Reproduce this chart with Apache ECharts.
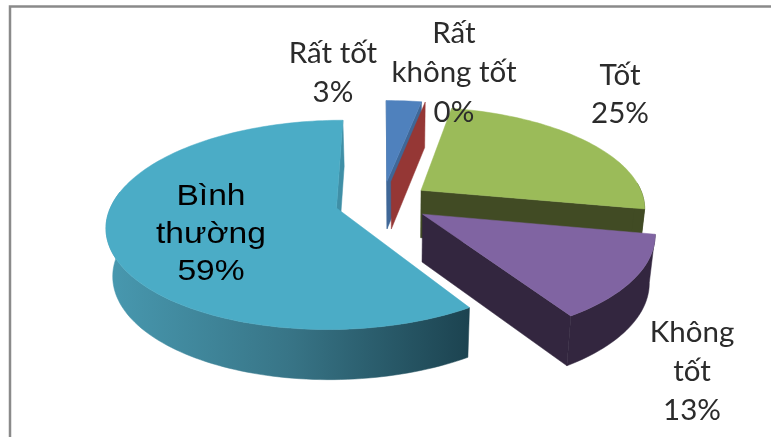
<!DOCTYPE html>
<html>
<head>
<meta charset="utf-8">
<style>html,body{margin:0;padding:0;background:#fff}#c{width:771px;height:437px}</style>
<script src="https://cdn.jsdelivr.net/npm/echarts@6/dist/echarts.min.js"></script>
</head>
<body>
<div id="c"></div>
<script>
// Survey ratings, clockwise from the first slice
const categories = ['Rất tốt', 'Rất không tốt', 'Tốt', 'Không tốt', 'Bình thường'];
const shares = [3, 0, 25, 13, 59];
const labelLines = [['Rất tốt'], ['Rất', 'không tốt'], ['Tốt'], ['Không', 'tốt'], ['Bình', 'thường']];

// Colours of each slice: top face, cut faces and rim
const topColors = ['#4F81BD', '#C0504D', '#9BBB59', '#8064A2', '#4BACC6'];
const cutColors = ['#3F6797', '#953735', '#414B24', '#33263F', '#3F8FA6'];
const rimColors = ['#3F6797', '#953735', '#414B24', '#33263F', null];

// Projection of the tilted pie onto the page
const view = {cx: 382.5, cy: 202, a: 224, b: 100, k: 0.16, explode: 0.212, first: 0,
  depth: 47.6, lowCx: 400, lowX: 0.977, lowY: 1.02};
const labelBoxes = [
  {x: 333, y: 53, gap: 39, font: 'Lato', size: 29.5, color: '#2b2b2b', stretch: 1},
  {x: 454, y: 33, gap: 39.5, font: 'Lato', size: 29.5, color: '#2b2b2b', stretch: 1},
  {x: 620, y: 75, gap: 38, font: 'Lato', size: 29.5, color: '#2b2b2b', stretch: 1},
  {x: 692, y: 332, gap: 39, font: 'Lato', size: 29.5, color: '#2b2b2b', stretch: 1},
  {x: 211, y: 197, gap: 37.5, font: 'Liberation Sans', size: 30, color: '#000', stretch: 1.12}
];

const rad = d => d * Math.PI / 180;
const total = shares.reduce((s, v) => s + v, 0);

function project(u, v) {
  const w = 1 / (1 - view.k * v);
  return [view.cx + view.a * u * w, view.cy + view.b * v * w];
}
function lower(p) {
  return [view.lowCx + (p[0] - view.lowCx) * view.lowX, view.cy + view.depth + (p[1] - view.cy) * view.lowY];
}

// Screen geometry of one slice: apex plus outer arc, from its angular span
function sliceGeometry(start, end) {
  const mid = rad((start + end) / 2);
  const ou = view.explode * Math.sin(mid), ov = -view.explode * Math.cos(mid);
  const arc = [], angles = [];
  const steps = Math.max(1, Math.ceil((end - start) / 1.5));
  for (let i = 0; i <= steps; i++) {
    const deg = start + (end - start) * i / steps;
    const t = rad(deg);
    angles.push(deg);
    arc.push(project(ou + Math.sin(t), ov - Math.cos(t)));
  }
  return {apex: project(ou, ov), arc, angles};
}

// Which side of a cut edge the wall drops to
function dropSide(apex, outer, apexLow) {
  return (outer[0] - apex[0]) * (apexLow[1] - apex[1]) - (outer[1] - apex[1]) * (apexLow[0] - apex[0]);
}

function poly(points, fill, z2) {
  return {type: 'polygon', z2, shape: {points}, style: {fill, stroke: fill, lineWidth: 0.5}};
}
function rimGradient() {
  return new echarts.graphic.LinearGradient(0, 0, 1, 0, [
    {offset: 0, color: '#4899B0'},
    {offset: 0.5, color: '#387587'},
    {offset: 1, color: '#1C4350'}
  ]);
}

// Far slices are painted first, each slice's top face right after its own walls
const paintOrder = [0, 1, 2, 4, 3];

function renderSlice(params, api) {
  const idx = api.value(0);
  let acc = view.first;
  for (let i = 0; i < idx; i++) acc += shares[i] / total * 360;
  const span = api.value(1) / total * 360;
  const g = sliceGeometry(acc, acc + span);
  const apexLow = lower(g.apex);
  const order = paintOrder.indexOf(idx) * 10;
  const children = [];
  const first = g.arc[0], last = g.arc[g.arc.length - 1];
  if (dropSide(g.apex, first, apexLow) < 0) {
    children.push(poly([g.apex, first, lower(first), apexLow], cutColors[idx], order));
  }
  if (dropSide(g.apex, last, apexLow) > 0) {
    children.push(poly([g.apex, last, lower(last), apexLow], cutColors[idx], order + 1));
  }
  if (span > 0) {
    // Only the near part of the rim can be seen
    const front = g.arc.filter((p, i) => g.angles[i] > 85 && g.angles[i] < 280);
    if (front.length > 1) {
      const rim = front.concat(front.map(lower).reverse());
      children.push(poly(rim, rimColors[idx] || rimGradient(), order + 2));
    }
    children.push(poly([g.apex].concat(g.arc), topColors[idx], order + 3));
  }
  const box = labelBoxes[idx];
  const pct = Math.round(api.value(1) / total * 100) + '%';
  labelLines[idx].concat(pct).forEach((text, n) => children.push({
    type: 'text', z2: 100,
    x: box.x, y: box.y + n * box.gap, scaleX: box.stretch,
    style: {
      x: 0, y: 0, text, align: 'center', verticalAlign: 'middle',
      fill: box.color, font: box.size + 'px "' + box.font + '"'
    }
  }));
  return {type: 'group', children};
}

const rows = categories.map((name, i) => [i, shares[i], name]);

echarts.init(document.getElementById('c'), null, {renderer: 'canvas'}).setOption({
  animation: false,
  backgroundColor: '#fff',
  graphic: [
    // Chart frame: only its top and left edges fall inside the page
    {type: 'polyline', shape: {points: [[10, 437], [10, 6.5], [771, 6.5]]},
      style: {fill: 'none', stroke: '#8a8a8a', lineWidth: 2.5}}
  ],
  series: [{
    type: 'custom',
    coordinateSystem: 'none',
    renderItem: renderSlice,
    data: rows,
    silent: true
  }]
});
</script>
</body>
</html>
